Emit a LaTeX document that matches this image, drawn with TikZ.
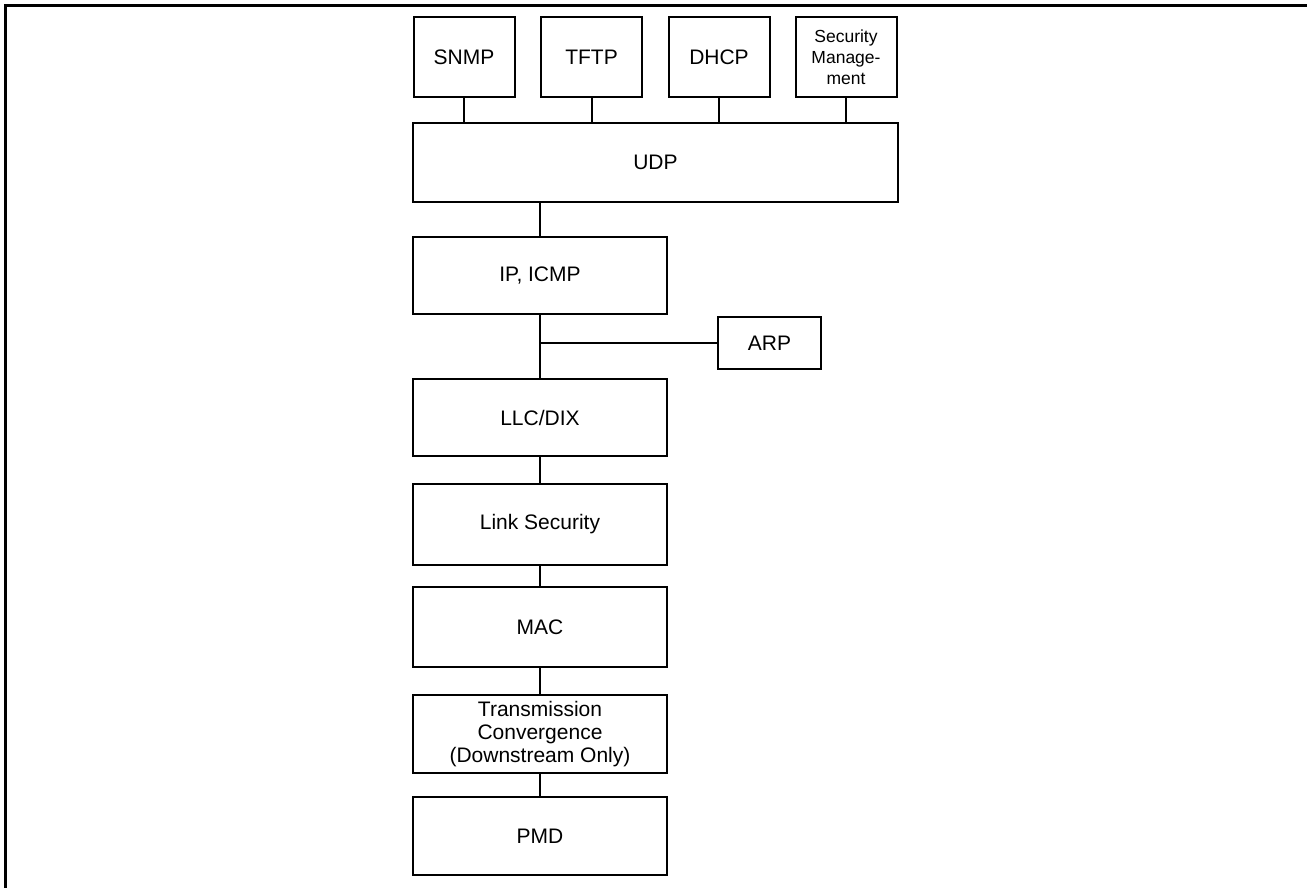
\documentclass[tikz,border=0pt]{standalone}
\usepackage{fontspec}
\setmainfont{Liberation Sans}
\tikzset{
  layer/.style={draw, line width=2pt, inner sep=0pt, minimum width=254pt,
    minimum height=78pt, align=center, font=\fontsize{21}{23}\selectfont},
  app/.style={layer, minimum width=101pt, minimum height=80pt},
  link/.style={line width=2pt}
}
\begin{document}
\begin{tikzpicture}[x=1pt, y=-1pt]
    \useasboundingbox (0,0) rectangle (1307,888);
    % Frame
    \draw[line width=2.2pt] (5.5,888) -- (5.5,5.5) -- (1307,5.5);
    % Applications
    \node[app] (snmp) at (464,57) {SNMP};
    \node[app] (tftp) at (591.5,57) {TFTP};
    \node[app] (dhcp) at (719,57) {DHCP};
    \node[app, font=\fontsize{17.5}{21}\selectfont] (secmgmt) at (846,57) {Security\\Manage-\\ment};
    \node[layer, minimum width=485pt, minimum height=79pt] (udp) at (655.5,162.5) {UDP};
	% Stack
    \node[layer, minimum height=77pt] (ip) at (540,275.5) {IP, ICMP};
    \node[layer, minimum width=103pt, minimum height=52pt] (arp) at (769.5,343) {ARP};
    \node[layer, minimum height=77pt] (llc) at (540,417.5) {LLC/DIX};
    \node[layer, minimum height=81pt] (linksec) at (540,524.5) {Link Security};
    \node[layer, minimum height=80pt] (mac) at (540,627) {MAC};
    \node[layer] (tc) at (540,734) {Transmission\\Convergence\\(Downstream Only)};
    \node[layer] (pmd) at (540,836) {PMD};
	% Links
    \foreach \a in {snmp, tftp, dhcp, secmgmt}
        \draw[link] (\a.south) -- (\a.south |- udp.north);
    \draw[link] (udp.south -| ip.north) -- (ip.north);
    \draw[link] (ip.south) -- (llc.north);
    \coordinate (tap) at (ip.south |- arp.west);
    \draw[link] (tap) -- (arp.west);
    \draw[link] (llc.south) -- (linksec.north);
    \draw[link] (linksec.south) -- (mac.north);
    \draw[link] (mac.south) -- (tc.north);
    \draw[link] (tc.south) -- (pmd.north);

  \end{tikzpicture}
\end{document}
